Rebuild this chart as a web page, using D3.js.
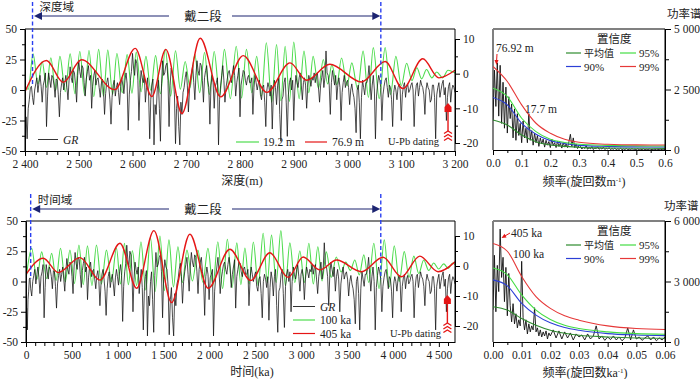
<!DOCTYPE html>
<html><head><meta charset="utf-8">
<script src="https://cdn.jsdelivr.net/npm/d3@7/dist/d3.min.js"></script>
<style>
body{margin:0;background:#fff;}
svg text{font-family:"Liberation Serif","Times New Roman","Noto Sans CJK SC",serif;fill:#222;}
.tk{font-size:11.5px;}
</style></head><body>
<svg id="c" width="700" height="379"></svg>
<script>
// ---------------- DATA ----------------
const depthDomain = [2400, 3200];
const ageDomain = [0, 4676];
const depthTicks = [2400,2500,2600,2700,2800,2900,3000,3100,3200];
const ageTicks = [0,500,1000,1500,2000,2500,3000,3500,4000,4500];
const leftTicks = [-50,-25,0,25,50];
const rightTicks = [-20,-10,0,10];
const specTopTicks = [0,0.1,0.2,0.3,0.4,0.5,0.6];
const specBotTicks = [0,0.01,0.02,0.03,0.04,0.05,0.06];
const powerTopTicks = [0,2500,5000];
const powerBotTicks = [0,3000,6000];

// GR log (left axis units), sampled every 2 m from 2400 m
const grStartDepth = 2400, grStep = 2;
const grValues = [
-35,-22,-40,-15,-8,2,3,-6,-12,0,
5,10,-2,6,12,3,-10,4,8,14,
-30,-5,14,8,2,12,10,4,-6,9,
8,-4,-22,-2,5,10,0,6,12,2,
-8,8,19,10,6,16,14,4,-10,12,
24,15,10,20,18,6,-5,9,15,20,
8,12,-15,3,12,16,4,9,10,2,
-6,5,9,0,-20,-3,6,10,2,-8,
-28,-6,4,8,-5,2,6,-2,-12,3,
10,4,-3,8,14,5,-33,-4,8,15,
30,18,12,25,22,8,-25,2,16,10,
6,12,-10,2,10,-5,-40,-8,4,9,
-45,-12,-20,0,8,-15,-42,5,24,12,
14,20,22,8,-30,4,18,12,10,-4,
-44,-15,-5,-30,-45,-10,-20,-2,2,10,
15,4,-18,0,8,14,20,6,-8,12,
24,16,12,22,20,8,-10,10,16,20,
8,2,-28,4,12,6,-15,3,6,10,
-45,-8,4,12,20,8,-10,2,8,14,
16,10,6,14,20,12,-5,6,12,18,
-22,4,10,16,15,8,4,10,12,6,
6,10,-20,2,12,6,0,5,8,-4,
-8,2,4,-10,-30,0,6,2,-5,4,
-32,-5,8,2,-12,4,10,-20,-42,-8,
-5,6,10,-10,-38,-4,6,10,0,8,
-25,0,12,6,2,10,14,4,-8,6,
10,4,-15,2,12,8,3,10,8,14,
6,12,14,2,-10,4,10,16,2,10,
32,14,12,4,-20,6,16,10,4,12,
-8,4,10,2,-25,-2,6,12,2,6,
8,2,-12,0,5,-2,-6,-15,-35,0,
4,-10,-40,-6,8,2,-4,6,6,10,
20,6,-8,4,12,0,-40,-5,5,12,
8,2,-25,-4,3,8,10,2,-6,4,
2,-8,-30,-2,4,0,-8,2,5,0,
-25,-4,3,6,-6,2,5,-2,0,4,
6,0,-30,-5,4,6,-5,2,8,4,
2,-4,-20,0,6,2,0,-10,-8,4,
4,-6,-40,-4,2,6,-6,0,5,8,
-4,2,-25,-6,3,6,-10,0,4,2,
-2];

// age model tie points (depth m -> age ka)
const ageTieDepth = [2400, 2414, 2650, 3062, 3200];
const ageTieAge   = [0, 51, 1380, 3867, 4676];

// boundaries of 戴二段 (dashed lines)
const boundDepth = [2414, 3062];
const boundAge = [51, 3867];
const upbDepth = 3187, upbAge = 4593;

// 19.2 m filter (right axis units), extrema
const green192 = [[2400,-3.8],[2406,-4.5],[2415,5.7],[2424,-3.0],[2432,3.5],[2440,-4.0],[2448,4.6],[2457,-4.8],[2465,5.0],[2475,-5.2],[2484,5.7],[2493,-5.8],[2502,6.4],[2511,-6.2],[2519,6.7],[2528,-6.6],[2537,7.0],[2546,-6.5],[2554,6.8],[2563,-6.0],[2571,5.8],[2581,-5.5],[2590,5.5],[2599,-5.6],[2607,6.2],[2616,-5.2],[2625,5.0],[2634,-4.8],[2643,5.2],[2652,-5.8],[2661,7.0],[2671,-6.5],[2680,6.6],[2689,-4.5],[2698,3.5],[2707,-4.0],[2716,5.5],[2725,-5.5],[2734,6.1],[2743,-6.0],[2752,6.4],[2762,-6.5],[2771,7.0],[2782,-7.2],[2793,7.9],[2803,-7.0],[2812,7.0],[2822,-5.5],[2831,5.0],[2840,-6.5],[2849,8.9],[2859,-8.2],[2868,8.4],[2876,-7.8],[2884,7.9],[2892,-8.0],[2900,9.1],[2910,-7.2],[2919,6.5],[2928,-5.5],[2936,5.0],[2946,-4.2],[2955,4.1],[2963,-3.0],[2971,2.6],[2980,-3.2],[2989,4.5],[2999,-3.5],[3008,3.1],[3019,-4.5],[3029,6.5],[3039,-6.8],[3048,7.5],[3059,-7.2],[3070,7.5],[3080,-6.0],[3090,5.0],[3100,-3.5],[3110,3.0],[3120,-2.0],[3129,1.7],[3138,-1.5],[3147,1.2],[3157,-1.2],[3166,0.5],[3177,-1.2],[3187,1.0],[3200,0.2]];
// 76.9 m filter
const red769 = [[2400,-5.2],[2440,3.8],[2471,-2.5],[2505,4.0],[2567,-4.6],[2605,7.3],[2636,-6.6],[2662,7.0],[2692,-11.5],[2726,10.2],[2764,-6.7],[2806,5.2],[2850,-5.4],[2893,3.1],[2924,-1.9],[2967,2.7],[3026,-2.4],[3070,3.5],[3103,-4.3],[3140,4.3],[3170,-1.2],[3200,1.0]];
// 100 ka filter
const green100 = [[0,-4.5],[62,5.9],[118,-4.5],[171,4.7],[225,-4.2],[280,4.2],[328,-4.8],[376,5.9],[428,-5.2],[479,5.3],[528,-5.8],[577,7.0],[624,-6.2],[670,6.7],[719,-6.5],[768,7.0],[822,-6.0],[877,5.3],[931,-5.2],[986,5.9],[1030,-6.0],[1073,7.6],[1116,-6.2],[1160,5.1],[1206,-6.5],[1253,8.1],[1305,-8.0],[1356,9.6],[1408,-8.5],[1460,10.0],[1509,-8.2],[1558,8.7],[1607,-7.0],[1656,6.4],[1705,-5.5],[1754,5.3],[1814,-5.0],[1874,5.3],[1928,-5.4],[1983,5.9],[2037,-6.5],[2091,8.1],[2143,-7.5],[2195,8.9],[2246,-7.2],[2298,7.7],[2342,-6.2],[2386,6.0],[2432,-6.0],[2478,8.0],[2531,-6.5],[2585,10.9],[2630,-5.5],[2676,10.3],[2727,-5.5],[2778,11.8],[2827,-6.5],[2876,7.7],[2930,-5.5],[2985,5.0],[3034,-5.5],[3083,7.6],[3132,-6.0],[3181,6.4],[3227,-5.0],[3273,4.7],[3327,-3.8],[3382,3.0],[3434,-2.0],[3486,1.3],[3535,-1.5],[3584,2.0],[3633,-3.0],[3682,3.7],[3736,-5.5],[3791,7.6],[3848,-7.5],[3905,8.7],[3960,-7.0],[4014,6.7],[4068,-5.2],[4123,4.8],[4175,-3.8],[4227,3.3],[4281,-2.5],[4335,2.0],[4390,-1.5],[4444,1.0],[4498,-1.0],[4553,0.7],[4602,-0.8],[4651,1.0],[4676,0.5]];
// 405 ka filter
const red405 = [[0,-2.8],[188,2.6],[352,-2.2],[588,2.8],[806,-4.7],[1024,7.6],[1206,-7.4],[1394,11.8],[1587,-12.2],[1786,10.6],[1986,-7.4],[2222,5.6],[2450,-4.8],[2658,4.4],[2857,-3.8],[3021,3.0],[3203,-1.3],[3385,2.0],[3657,-1.9],[3892,2.9],[4093,-3.6],[4292,3.3],[4491,-1.9],[4676,1.4]];

// power spectrum (depth domain), step 0.005 cycles/m
const specTopStep = 0.005;
const specTopValues = [1200,3300,1800,3600,1400,3500,1100,2800,900,2600,700,2200,1300,1900,500,1700,400,1500,600,1100,300,1200,500,900,300,1500,400,800,200,700,300,600,150,500,250,450,120,400,200,350,100,450,180,300,100,350,150,280,80,300,120,250,100,350,650,150,500,100,250,60,200,
150,40,120,60,180,30,100,50,140,20,90,60,130,30,80,40,110,20,70,40,100,20,60,30,80,10,50,25,70,15,45,20,60,10,40,20,55,10,35,15,50,10,30,20,45,5,30,15,40,10,25,15,35,5,30,15,30,10,25,15];
const confTopFreq = [0,0.05,0.1,0.15,0.2,0.25,0.3,0.4,0.5,0.6];
const confTopMean = [1243,1036,622,345,207,150,110,85,75,69];
const confTop90 = [2169,1865,1105,650,387,270,193,150,130,124];
const confTop95 = [2555,2210,1312,760,442,310,235,190,172,166];
const confTop99 = [3453,2831,1865,1105,690,442,318,235,210,207];

// power spectrum (time domain): fine part step 0.0005 to 0.02, coarse step 0.001 to 0.06
const specBotFine = [1600,4300,1500,3800,2500,5600,3200,4200,2000,3700,1300,3400,1800,1000,1900,900,1400,700,1100,800,4000,1200,600,1100,400,900,500,800,600,1700,500,700,300,600,250,500,300,550,150,450,300];
const specBotCoarse = [600,200,550,150,500,200,450,100,400,250,350,100,400,150,300,800,150,300,80,250,120,300,100,250,60,200,700,100,600,150,250,80,200,300,100,250,60,200,100,250];
const confBotFreq = [0,0.005,0.01,0.015,0.02,0.025,0.03,0.04,0.05,0.06];
const confBotMean = [1750,1583,1167,833,583,430,333,250,200,183];
const confBot90 = [3083,2783,1917,1333,950,720,583,417,350,317];
const confBot95 = [3667,3333,2333,1583,1117,830,667,500,417,383];
const confBot99 = [4883,4500,3250,2250,1667,1300,1083,800,667,617];

// ---------------- DRAW ----------------
const C = {gr:"#111", g:"#4fdc4f", r:"#e51616", mean:"#2e8b2e", p95:"#44dd44", p90:"#2c3fd6", p99:"#e63838", navy:"#1c2471", blue:"#2a3ff0", frame:"#808080"};
const svg = d3.select("#c");
const defs = svg.append("defs");
function clip(id,x0,y0,x1,y1){defs.append("clipPath").attr("id",id).append("rect").attr("x",x0).attr("y",y0).attr("width",x1-x0).attr("height",y1-y0);}
const fmtK = d => d3.format(",")(d).replace(/,/g," ");
const fmtI = d => String(d);

function axis(gen, tr){
  const g = svg.append("g").attr("transform",tr).call(gen);
  g.attr("font-family",null).attr("font-size",null);
  g.select(".domain").attr("stroke","#000").attr("stroke-width",1);
  g.selectAll(".tick line").attr("stroke","#000");
  g.selectAll(".tick text").attr("class","tk").attr("fill","#222");
  return g;
}
function minor(gen, tr){
  const g = svg.append("g").attr("transform",tr).call(gen.tickFormat(""));
  g.select(".domain").remove();
  g.selectAll(".tick line").attr("stroke","#000");
}

function leftPanel(o){
  const {x, yL, yR, x0,x1,y0,y1, id} = o;
  clip(id, x0, y0, x1, y1);
  svg.append("line").attr("x1",x0).attr("x2",x1).attr("y1",y0).attr("y2",y0).attr("stroke",C.frame).attr("stroke-width",2);
  const gp = svg.append("g").attr("clip-path",`url(#${id})`);
  const lineR = d3.line().x(d=>x(d[0])).y(d=>yR(d[1])).curve(d3.curveMonotoneX);
  gp.append("path").attr("d",lineR(o.green)).attr("fill","none").attr("stroke",C.g).attr("stroke-width",1.1);
  gp.append("path").attr("d",d3.line().x(d=>x(d[0])).y(d=>yL(d[1]))(o.gr)).attr("fill","none").attr("stroke",C.gr).attr("stroke-width",0.75);
  gp.append("path").attr("d",lineR(o.red)).attr("fill","none").attr("stroke",C.r).attr("stroke-width",1.4);
  axis(d3.axisLeft(yL).tickValues(leftTicks).tickFormat(fmtI).tickSize(5).tickPadding(3).tickSizeOuter(0), `translate(${x0},0)`);
  minor(d3.axisLeft(yL).tickValues([-37.5,-12.5,12.5,37.5]).tickSize(3), `translate(${x0},0)`);
  axis(d3.axisRight(yR).tickValues(rightTicks).tickFormat(fmtI).tickSize(5).tickPadding(3).tickSizeOuter(0), `translate(${x1},0)`);
  minor(d3.axisRight(yR).tickValues([-15,-5,5]).tickSize(3), `translate(${x1},0)`);
  svg.append("line").attr("x1",x1).attr("x2",x1).attr("y1",y0).attr("y2",y1).attr("stroke","#000");
  svg.append("line").attr("x1",x0).attr("x2",x0).attr("y1",y0).attr("y2",y1).attr("stroke","#000");
  axis(d3.axisBottom(x).tickValues(o.ticks).tickFormat(fmtK).tickSize(5).tickPadding(4).tickSizeOuter(0), `translate(0,${y1})`);
  minor(d3.axisBottom(x).tickValues(o.minorTicks).tickSize(4), `translate(0,${y1})`);
}

// ---------- top left ----------
const xD = d3.scaleLinear().domain(depthDomain).range([25,455]);
const yLT = d3.scaleLinear().domain([-50,50]).range([151,29]);
const yRT = d3.scaleLinear().domain([-20,10]).range([143,39]);
const grDepthData = grValues.map((v,i)=>[grStartDepth+i*grStep, v]);
leftPanel({x:xD, yL:yLT, yR:yRT, x0:25,x1:455,y0:29,y1:151,id:"cTL",
  gr:grDepthData, green:green192, red:red769, ticks:depthTicks,
  minorTicks:d3.range(2420,3200,20).filter(d=>d%100!==0)});

// ---------- bottom left ----------
const depthToAge = d3.scaleLinear().domain(ageTieDepth).range(ageTieAge);
const xA = d3.scaleLinear().domain(ageDomain).range([26,455]);
const yLB = d3.scaleLinear().domain([-50,50]).range([342,221]);
const yRB = d3.scaleLinear().domain([-20,10]).range([326,236]);
const grAgeData = grDepthData.map(d=>[depthToAge(d[0]), d[1]]);
leftPanel({x:xA, yL:yLB, yR:yRB, x0:26,x1:455,y0:221,y1:342,id:"cBL",
  gr:grAgeData, green:green100, red:red405, ticks:ageTicks,
  minorTicks:d3.range(100,4676,100).filter(d=>d%500!==0)});

svg.append("text").attr("x",242).attr("y",185).attr("text-anchor","middle").style("font-size","12px").text("深度(m)");
svg.append("text").attr("x",252).attr("y",376).attr("text-anchor","middle").style("font-size","12px").text("时间(ka)");

function boundaries(x, vals, yTop, yBot, yArrow, domainLabel){
  vals.forEach(v=>svg.append("line").attr("x1",x(v)).attr("x2",x(v)).attr("y1",yTop).attr("y2",yBot)
    .attr("stroke",C.blue).attr("stroke-width",1.4).attr("stroke-dasharray","4,2.5"));
  const xl = x(vals[0])+1.5, xr = x(vals[1])-0.5, cx = 203;
  svg.append("line").attr("x1",xl+6).attr("x2",cx-34).attr("y1",yArrow).attr("y2",yArrow).attr("stroke",C.navy).attr("stroke-width",1.2);
  svg.append("line").attr("x1",cx+29).attr("x2",xr-6).attr("y1",yArrow).attr("y2",yArrow).attr("stroke",C.navy).attr("stroke-width",1.2);
  svg.append("path").attr("d",`M${xl},${yArrow}L${xl+8},${yArrow-4}L${xl+8},${yArrow+4}Z`).attr("fill",C.navy);
  svg.append("path").attr("d",`M${xr},${yArrow}L${xr-8},${yArrow-4}L${xr-8},${yArrow+4}Z`).attr("fill",C.navy);
  svg.append("text").attr("x",cx).attr("y",yArrow+4.5).attr("text-anchor","middle").style("font-size","12.5px").attr("fill","#333").text("戴二段");
  svg.append("text").attr("x",x(vals[0])+7).attr("y",yArrow-5).style("font-size","11.5px").attr("fill","#333").text(domainLabel);
}
boundaries(xD, boundDepth, 2, 84, 16, "深度域");
boundaries(xA, boundAge, 194, 279, 209, "时间域");

function upb(xp, yTip){
  const g = svg.append("g").attr("stroke",C.r).attr("fill","none").attr("stroke-width",1.4);
  g.append("line").attr("x1",xp).attr("x2",xp).attr("y1",yTip+8).attr("y2",yTip+28);
  svg.append("path").attr("d",`M${xp},${yTip}L${xp+3.5},${yTip+4}L${xp+3.5},${yTip+9}L${xp-3.5},${yTip+9}L${xp-3.5},${yTip+4}Z`).attr("fill",C.r);
  [28,31.5,35].forEach(o=>g.append("path").attr("d",`M${xp-4},${yTip+o+2.5}L${xp},${yTip+o}L${xp+4},${yTip+o+2.5}`));
}
upb(xD(upbDepth), 103);
upb(xA(upbAge), 295);

function legLine(x1,x2,y,color,w){svg.append("line").attr("x1",x1).attr("x2",x2).attr("y1",y).attr("y2",y).attr("stroke",color).attr("stroke-width",w||1.2);}
function legText(x,y,t,italic,size){const e=svg.append("text").attr("x",x).attr("y",y).style("font-size",(size||11.5)+"px").text(t); if(italic)e.style("font-style","italic"); return e;}
legLine(38,58,139.5,"#333",1); legText(63,143.5,"GR",true);
legLine(236,259,142,C.g); legText(263,146,"19.2 m");
legLine(305,327,142,C.r); legText(332,146,"76.9 m");
legText(388,145,"U-Pb dating",false,10.5);
legLine(293,315,306.5,"#333",1); legText(320,310.5,"GR",true);
legLine(293,315,320,C.g); legText(320,324,"100 ka");
legLine(293,315,333.5,C.r); legText(320,337.5,"405 ka");
legText(390,337,"U-Pb dating",false,10.5);

function specPanel(o){
  const {x,y,x0,x1,y0,y1,id} = o;
  clip(id,x0,y0-2,x1,y1);
  svg.append("line").attr("x1",x0).attr("x2",x1).attr("y1",y0).attr("y2",y0).attr("stroke",C.frame).attr("stroke-width",2);
  svg.append("line").attr("x1",x0).attr("x2",x0).attr("y1",y0).attr("y2",y1).attr("stroke",C.frame).attr("stroke-width",2);
  const gp = svg.append("g").attr("clip-path",`url(#${id})`);
  gp.append("path").attr("d",d3.line().x(d=>x(d[0])).y(d=>y(d[1]))(o.spec)).attr("fill","none").attr("stroke","#111").attr("stroke-width",0.9);
  const lc = d3.line().x(d=>x(d[0])).y(d=>y(d[1])).curve(d3.curveMonotoneX);
  o.conf.forEach(c=>gp.append("path").attr("d",lc(o.freq.map((f,i)=>[f,c.v[i]]))).attr("fill","none").attr("stroke",c.color).attr("stroke-width",1.1));
  axis(d3.axisBottom(x).tickValues(o.ticks).tickFormat(d3.format(o.fmt)).tickSize(5).tickPadding(4).tickSizeOuter(0), `translate(0,${y1})`);
  minor(d3.axisBottom(x).tickValues(o.minorTicks).tickSize(3), `translate(0,${y1})`);
  axis(d3.axisRight(y).tickValues(o.yTicks).tickFormat(fmtK).tickSize(6).tickPadding(3).tickSizeOuter(0), `translate(${x1},0)`);
  minor(d3.axisRight(y).tickValues(o.yMinor).tickSize(4), `translate(${x1},0)`);
  svg.append("line").attr("x1",x1).attr("x2",x1).attr("y1",y0).attr("y2",y1).attr("stroke","#000");
}
const xFT = d3.scaleLinear().domain([0,0.6]).range([493,665]);
const yPT = d3.scaleLinear().domain([0,5000]).range([150,29]);
specPanel({x:xFT,y:yPT,x0:493,x1:665,y0:29,y1:150,id:"cTR",
  spec:specTopValues.map((v,i)=>[i*specTopStep,v]), freq:confTopFreq,
  conf:[{v:confTopMean,color:C.mean},{v:confTop90,color:C.p90},{v:confTop95,color:C.p95},{v:confTop99,color:C.p99}],
  ticks:specTopTicks, fmt:".1f", minorTicks:[0.05,0.15,0.25,0.35,0.45,0.55], yTicks:powerTopTicks, yMinor:[1250,3750]});
const xFB = d3.scaleLinear().domain([0,0.06]).range([493,665]);
const yPB = d3.scaleLinear().domain([0,6000]).range([342,221]);
const specBot = specBotFine.map((v,i)=>[i*0.0005,v]).concat(specBotCoarse.map((v,i)=>[0.021+i*0.001,v]));
specPanel({x:xFB,y:yPB,x0:493,x1:665,y0:221,y1:342,id:"cBR",
  spec:specBot, freq:confBotFreq,
  conf:[{v:confBotMean,color:C.mean},{v:confBot90,color:C.p90},{v:confBot95,color:C.p95},{v:confBot99,color:C.p99}],
  ticks:specBotTicks, fmt:".2f", minorTicks:[0.005,0.015,0.025,0.035,0.045,0.055], yTicks:powerBotTicks, yMinor:[1500,4500]});

legText(667,18,"功率谱",false,11.5);
legText(664,210,"功率谱",false,11.5);
function freqLabel(cx,yb,unit){
  const t = svg.append("text").attr("x",cx).attr("y",yb).attr("text-anchor","middle").style("font-size","12px");
  t.append("tspan").text("频率(旋回数"+unit);
  t.append("tspan").attr("dy",-4).style("font-size","7px").text("-1");
  t.append("tspan").attr("dy",4).text(")");
}
freqLabel(584,186,"m");
freqLabel(585,377,"ka");

function confLegend(y0){
  legText(597,y0,"置信度",false,11.5);
  legLine(566,581,y0+10,C.mean); legText(584,y0+14,"平均值",false,10);
  legLine(620,636,y0+10,C.p95); legText(639,y0+14,"95%",false,11);
  legLine(566,581,y0+23.5,C.p90); legText(584,y0+27.5,"90%",false,11);
  legLine(620,636,y0+23.5,C.p99); legText(639,y0+27.5,"99%",false,11);
}
confLegend(43);
confLegend(235);

legText(496,52,"76.92 m",false,11.5);
svg.append("line").attr("x1",497).attr("y1",54).attr("x2",496.5).attr("y2",62).attr("stroke",C.r).attr("stroke-width",1);
svg.append("path").attr("d","M496.5,65L494.5,60L498.5,60Z").attr("fill",C.r);
legText(525,113,"17.7 m",false,11.5);
legText(511,237,"405 ka",false,11.5);
svg.append("line").attr("x1",510).attr("y1",233).attr("x2",504).attr("y2",236.5).attr("stroke",C.r).attr("stroke-width",1);
svg.append("path").attr("d","M501.5,238L504.5,233.8L506.5,237.5Z").attr("fill",C.r);
legText(513,258,"100 ka",false,11.5);
</script>
</body></html>
